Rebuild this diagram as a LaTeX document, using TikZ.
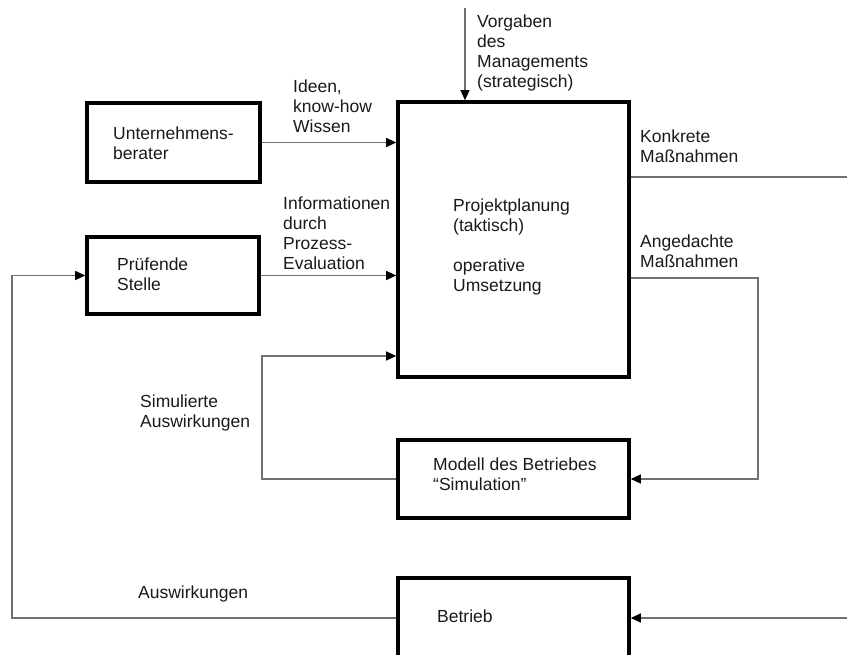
\documentclass[tikz,border=0pt]{standalone}
\usepackage{fontspec}
\setmainfont{Liberation Sans}
\usetikzlibrary{arrows.meta}
\definecolor{linegray}{HTML}{707070}
\definecolor{txtcol}{HTML}{1A1A1A}
\begin{document}
\begin{tikzpicture}[x=1pt,y=-1pt,
  box/.style={draw=black, line width=3.6pt, rectangle, inner sep=0pt},
  txt/.style={anchor=north west, inner sep=0pt, align=left, text=txtcol, font=\fontsize{17.5}{19.8}\selectfont},
  conn/.style={draw=linegray, line width=1.3pt},
  arr/.style={-{Triangle[length=10pt,width=9pt,color=black]}}]
\useasboundingbox (0,0) rectangle (847,655);
\clip (0,0) rectangle (847,655);
\fill[white] (0,0) rectangle (847,655);
% boxes
\node[box, minimum width=173pt, minimum height=79pt] (ub) at (173.5,142.5) {};
\node[box, minimum width=172pt, minimum height=77pt] (ps) at (173,275.5) {};
\node[box, minimum width=231pt, minimum height=275pt] (pp) at (513.5,239.5) {};
\node[box, minimum width=231pt, minimum height=78pt] (md) at (513.5,479) {};
\node[box, minimum width=231pt, minimum height=80pt] (bt) at (513.5,618) {};
% box texts
\node[txt] (ubt) at (113,127) {Unternehmens-\\berater};
\node[txt] (pst) at (117,258) {Prüfende\\Stelle};
\node[txt] (ppt) at (453,199) {Projektplanung\\(taktisch)\\[19.8pt]operative\\Umsetzung};
\node[txt] (mdt) at (433,458) {Modell des Betriebes\\“Simulation”};
\node[txt] (btt) at (437,610) {Betrieb};
% labels
\node[txt] (l1) at (477,15) {Vorgaben\\des\\Managements\\(strategisch)};
\node[txt] (l2) at (293,80) {Ideen,\\know-how\\Wissen};
\node[txt] (l3) at (283,197) {Informationen\\durch\\Prozess-\\Evaluation};
\node[txt] (l4) at (640,130) {Konkrete\\Maßnahmen};
\node[txt] (l5) at (640,235) {Angedachte\\Maßnahmen};
\node[txt] (l6) at (140,395) {Simulierte\\Auswirkungen};
\node[txt] (l7) at (138,586) {Auswirkungen};
% connectors
\coordinate (vtop) at (465,8);
\draw[conn,arr] (vtop) -- (vtop |- pp.north);
\draw[conn,arr] (ub.east) -- (ub.east -| pp.west);
\draw[conn,arr] (ps.east) -- (ps.east -| pp.west);
\coordinate (kend) at (847,177);
\draw[conn] (kend -| pp.east) -- (kend);
\coordinate (aturn) at (758,278);
\draw[conn,arr] (aturn -| pp.east) -- (aturn) |- (md.east);
\coordinate (sturn) at (262,356);
\draw[conn,arr] (md.west) -| (sturn) -- (sturn -| pp.west);
\coordinate (lturn) at (12,0);
\draw[conn,arr] (bt.west) -| (lturn |- ps.west) -- (ps.west);
\coordinate (rin) at (847,618);
\draw[conn,arr] (rin) -- (bt.east);
\end{tikzpicture}
\end{document}
